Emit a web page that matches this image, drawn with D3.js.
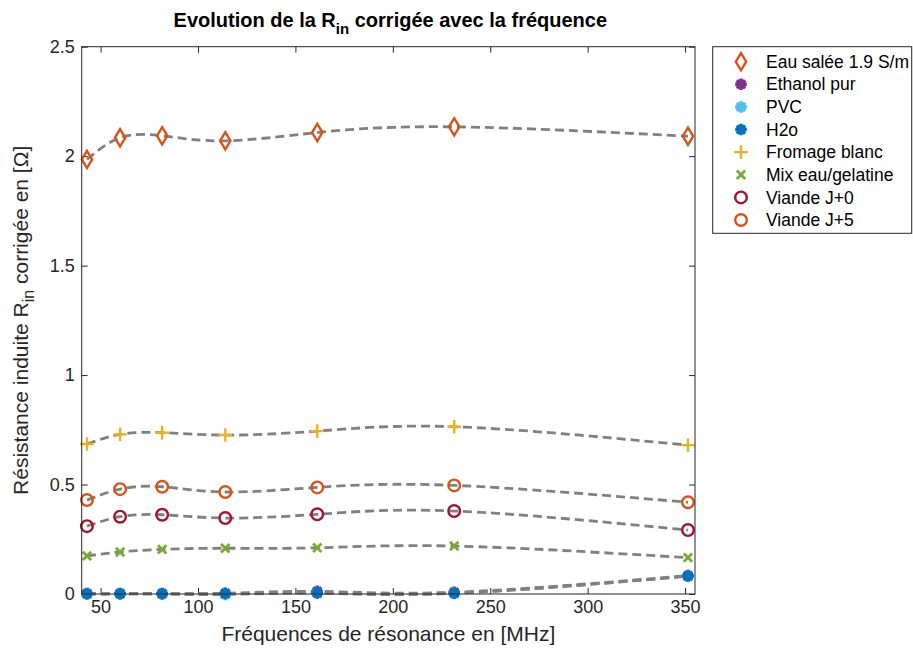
<!DOCTYPE html>
<html><head><meta charset="utf-8">
<script src="https://cdn.jsdelivr.net/npm/d3@7"></script>
<style>body{margin:0;background:#fff} text{font-family:"Liberation Sans",Arial,Helvetica,sans-serif}</style>
</head><body><svg id="c" width="913" height="655"></svg>
<script>
// ---- data ----
const freq = [43, 60, 81.6, 114, 161.2, 231.5, 351.5];
const eauSalee = [1.985, 2.084, 2.093, 2.070, 2.108, 2.134, 2.091];
const ethanol = [0.002, 0.002, 0.002, 0.003, 0.012, 0.008, 0.084];
const pvc = [0.000, 0.000, 0.000, -0.002, 0.004, 0.003, 0.081];
const h2o = [0.001, 0.001, 0.001, 0.002, 0.005, 0.004, 0.082];
const fromage = [0.685, 0.729, 0.737, 0.726, 0.744, 0.764, 0.680];
const mix = [0.174, 0.192, 0.204, 0.209, 0.211, 0.219, 0.166];
const viande0 = [0.310, 0.353, 0.362, 0.347, 0.364, 0.379, 0.292];
const viande5 = [0.429, 0.479, 0.490, 0.466, 0.487, 0.496, 0.419];
const seriesNames = ["Eau salée 1.9 S/m","Ethanol pur","PVC","H2o","Fromage blanc","Mix eau/gelatine","Viande J+0","Viande J+5"];
const seriesValues = [eauSalee, ethanol, pvc, h2o, fromage, mix, viande0, viande5];
const seriesColors = ["#D95319","#7E2F8E","#4DBEEE","#0072BD","#EDB120","#77AC30","#A2142F","#D95319"];
const seriesMarkers = ["diamond","asterisk","asterisk","asterisk","plus","x","circle","circle"];
const xTicks = [50,100,150,200,250,300,350];
const yTicks = [0,0.5,1,1.5,2,2.5];
const yTickLabels = ["0","0.5","1","1.5","2","2.5"];

const svg = d3.select("#c");
svg.append("rect").attr("width",913).attr("height",655).attr("fill","#fff");
const L=81.7, R=695, T=46.7, B=594;
const x = d3.scaleLinear().domain([40.3,355.1]).range([L,R]);
const y = d3.scaleLinear().domain([0,2.5]).range([B,T]);
const axisCol="#262626";

// axes
const gx = svg.append("g").attr("transform",`translate(0,${B})`)
  .call(d3.axisBottom(x).tickValues(xTicks).tickSize(-6).tickPadding(6).tickFormat(d=>String(d)));
const gxt = svg.append("g").attr("transform",`translate(0,${T})`)
  .call(d3.axisTop(x).tickValues(xTicks).tickSize(-6).tickFormat(""));
const gy = svg.append("g").attr("transform",`translate(${L},0)`)
  .call(d3.axisLeft(y).tickValues(yTicks).tickSize(-6).tickPadding(7).tickFormat((d,i)=>yTickLabels[i]));
const gyr = svg.append("g").attr("transform",`translate(${R},0)`)
  .call(d3.axisRight(y).tickValues(yTicks).tickSize(-6).tickFormat(""));
[gx,gxt,gy,gyr].forEach(g=>{
  g.select(".domain").remove();
  g.selectAll(".tick line").attr("stroke",axisCol).attr("stroke-width",1);
  g.selectAll(".tick text").attr("fill",axisCol).attr("font-size",18).attr("font-family","Liberation Sans, Arial, sans-serif");
});

// lines
const line = d3.line().x((d,i)=>x(freq[i])).y(d=>y(d)).curve(d3.curveNatural);
seriesValues.forEach(vals=>{
  svg.append("path").attr("d",line(vals)).attr("fill","none")
    .attr("stroke","#808080").attr("stroke-width",2.8).attr("stroke-dasharray","9,5");
});

// markers
function markerPath(type){
  const p = d3.path();
  if(type==="diamond"){ p.moveTo(0,-8.6); p.lineTo(5.2,0); p.lineTo(0,8.6); p.lineTo(-5.2,0); p.closePath(); }
  else if(type==="circle"){ p.arc(0,0,5.8,0,2*Math.PI); }
  else if(type==="plus"){ p.moveTo(-6.8,0); p.lineTo(6.8,0); p.moveTo(0,-6.8); p.lineTo(0,6.8); }
  else if(type==="x"){ const s=4.2; p.moveTo(-s,-s); p.lineTo(s,s); p.moveTo(-s,s); p.lineTo(s,-s); }
  else if(type==="asterisk"){ const r=5.8, s=4.1; p.moveTo(-r,0); p.lineTo(r,0); p.moveTo(0,-r); p.lineTo(0,r);
    p.moveTo(-s,-s); p.lineTo(s,s); p.moveTo(-s,s); p.lineTo(s,-s); }
  return p.toString();
}
function markerWidth(type){ return type==="asterisk"?3.4:(type==="x"?2.8:2.4); }
seriesValues.forEach((vals,si)=>{
  svg.append("g").selectAll("path").data(vals).join("path")
    .attr("transform",(d,i)=>`translate(${x(freq[i])},${y(d)})`)
    .attr("d",markerPath(seriesMarkers[si]))
    .attr("fill","none")
    .attr("stroke",seriesColors[si]).attr("stroke-width",markerWidth(seriesMarkers[si]))
    .attr("stroke-linejoin","miter");
});

// box
svg.append("rect").attr("x",L).attr("y",T).attr("width",R-L).attr("height",B-T)
  .attr("fill","none").attr("stroke",axisCol).attr("stroke-width",1);

// title
const title = svg.append("text").attr("x",(L+R)/2+2).attr("y",27).attr("text-anchor","middle")
  .attr("font-size",20).attr("font-weight","bold").attr("fill","#000");
title.append("tspan").text("Evolution de la R");
title.append("tspan").attr("font-size",15).attr("dy",7).text("in");
title.append("tspan").attr("dy",-7).text(" corrigée avec la fréquence");

// x label
svg.append("text").attr("x",(L+R)/2).attr("y",641).attr("text-anchor","middle")
  .attr("font-size",21).attr("fill",axisCol).text("Fréquences de résonance en [MHz]");

// y label
const yl = svg.append("text").attr("transform",`translate(28,${(T+B)/2}) rotate(-90)`)
  .attr("text-anchor","middle").attr("font-size",21).attr("fill",axisCol);
yl.append("tspan").text("Résistance induite R");
yl.append("tspan").attr("font-size",16).attr("dy",6).text("in");
yl.append("tspan").attr("dy",-6).text(" corrigée en [Ω]");

// legend
const lg = svg.append("g");
lg.append("rect").attr("x",712.7).attr("y",46.7).attr("width",199).attr("height",186.6)
  .attr("fill","#fff").attr("stroke",axisCol).attr("stroke-width",1);
const ly = d3.scaleLinear().domain([0,7]).range([61.7,220]);
seriesNames.forEach((n,i)=>{
  lg.append("path").attr("transform",`translate(741,${ly(i)})`).attr("d",markerPath(seriesMarkers[i]))
    .attr("fill","none")
    .attr("stroke",seriesColors[i]).attr("stroke-width",markerWidth(seriesMarkers[i]));
  lg.append("text").attr("x",766).attr("y",ly(i)).attr("dy","0.35em").attr("font-size",17.5)
    .attr("fill","#000").text(n);
});
</script></body></html>
